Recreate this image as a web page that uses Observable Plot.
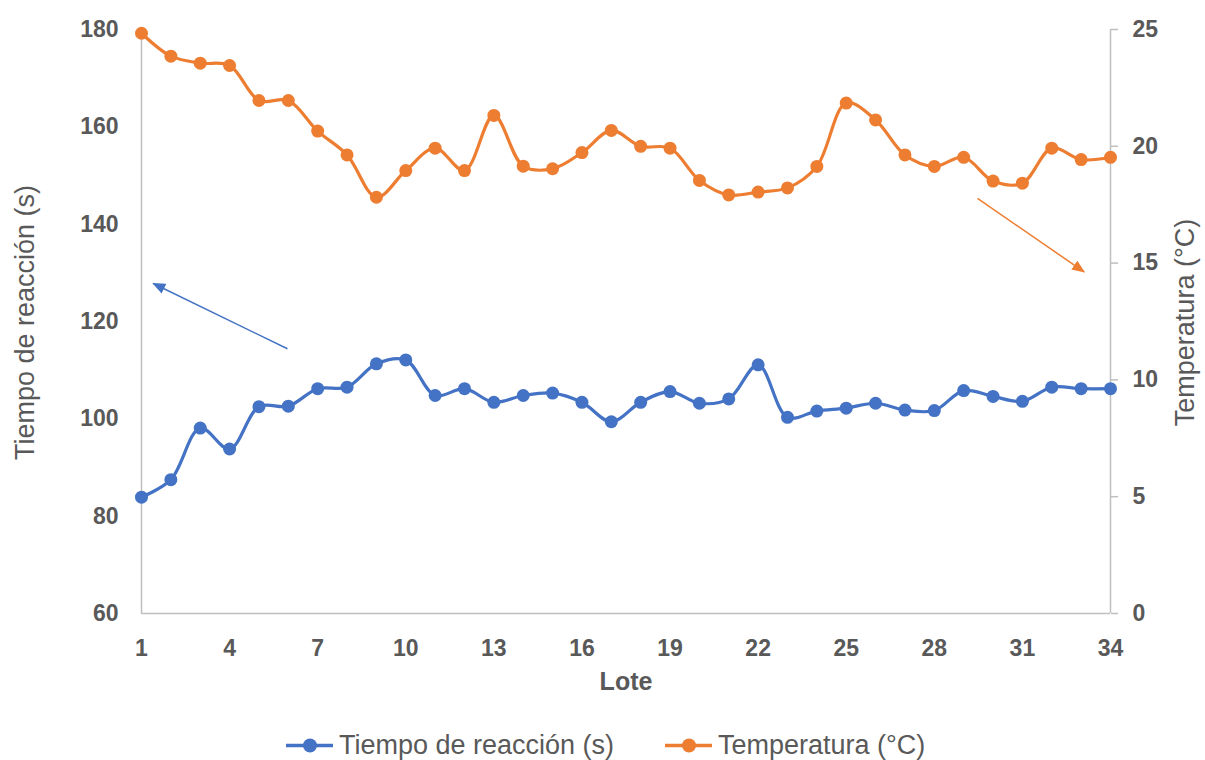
<!DOCTYPE html>
<html><head><meta charset="utf-8">
<script src="https://cdn.jsdelivr.net/npm/d3@7"></script>
<script src="https://cdn.jsdelivr.net/npm/@observablehq/plot@0.6"></script>
<style>
body{margin:0;background:#fff;font-family:"Liberation Sans",Arial,sans-serif;color:#595959;}
#wrap{position:relative;width:1205px;}
.ytitle{position:absolute;white-space:nowrap;font-size:27px;line-height:1;}
#legend{position:relative;width:1205px;height:60px;font-size:27px;}
.item{position:absolute;top:45px;transform:translateY(-50%);display:flex;align-items:center;gap:6px;white-space:nowrap;line-height:1;}
</style>
</head><body>
<div id="wrap"><div id="chart"></div></div>
<div id="legend"></div>
<script>
// Data
const lotes = [1,2,3,4,5,6,7,8,9,10,11,12,13,14,15,16,17,18,19,20,21,22,23,24,25,26,27,28,29,30,31,32,33,34];
const tiempo = [83.9,87.5,98.1,93.8,102.5,102.6,106.2,106.5,111.3,112.1,104.8,106.2,103.4,104.8,105.3,103.4,99.4,103.4,105.6,103.2,104.1,111.1,100.3,101.6,102.2,103.2,101.8,101.7,105.8,104.6,103.6,106.5,106.2,106.2];
const temperatura = [24.84,23.86,23.56,23.46,21.96,21.96,20.65,19.63,17.82,18.96,19.92,18.96,21.32,19.15,19.04,19.73,20.68,20.0,19.92,18.54,17.92,18.04,18.22,19.14,21.85,21.13,19.63,19.14,19.53,18.51,18.42,19.92,19.43,19.53];
const xTicks = [1,4,7,10,13,16,19,22,25,28,31,34];
const leftTicks = [60,80,100,120,140,160,180];
const rightTicks = [0,5,10,15,20,25];
const seriesNames = ["Tiempo de reacción (s)", "Temperatura (°C)"];
const axisTitles = ["Tiempo de reacción (s)", "Temperatura (°C)", "Lote"];
const colors = ["#4472C4", "#ED7D31"];
// Annotation arrows (lote, left-axis value)
const arrows = [
  {x1: 5.97, y1: 114.4, x2: 1.4, y2: 127.8, c: 0},
  {x1: 29.47, y1: 145.3, x2: 33.1, y2: 130.2, c: 1}
];

// Right axis (°C) mapped onto left-axis domain [60,180]
const tToLeft = t => 60 + t * (180 - 60) / 25;

const dTiempo = lotes.map((l, i) => ({lote: l, v: tiempo[i]}));
const dTemp = lotes.map((l, i) => ({lote: l, v: tToLeft(temperatura[i])}));

const grey = "#BFBFBF", txt = "#595959";

const chart = Plot.plot({
  width: 1205,
  height: 700,
  marginLeft: 141,
  marginRight: 95,
  marginTop: 29,
  marginBottom: 87,
  style: {fontFamily: '"Liberation Sans", Arial, sans-serif', color: txt, background: "#fff"},
  x: {domain: [1, 34], axis: null},
  y: {domain: [60, 180], axis: null},
  marks: [
    Plot.ruleX([1], {stroke: grey, strokeWidth: 1.5}),
    Plot.ruleX([34], {stroke: grey, strokeWidth: 1.5}),
    Plot.ruleY([60], {x1: 1, x2: 34, stroke: grey, strokeWidth: 1.5}),
    Plot.axisY({ticks: leftTicks, tickSize: 0, tickPadding: 23, fontSize: 23, fontWeight: "bold", fill: txt, label: null}),
    Plot.axisY({anchor: "right", ticks: rightTicks.map(tToLeft), tickFormat: v => String(Math.round((v - 60) * 25 / 120)), tickSize: 7, tickPadding: 15, stroke: grey, strokeWidth: 1.5, fontSize: 23, fontWeight: "bold", fill: txt, label: null}),
    Plot.axisX({ticks: xTicks, tickSize: 0, tickPadding: 26, fontSize: 23, fontWeight: "bold", fill: txt, label: null}),
    Plot.text([axisTitles[2]], {frameAnchor: "bottom", dy: 76, fontSize: 25, fontWeight: "bold", fill: txt}),
    Plot.link(arrows, {x1: "x1", y1: "y1", x2: "x2", y2: "y2", stroke: d => colors[d.c], strokeWidth: 1.5}),
    Plot.line(dTiempo, {x: "lote", y: "v", stroke: colors[0], strokeWidth: 3.2, curve: "catmull-rom"}),
    Plot.dot(dTiempo, {x: "lote", y: "v", fill: colors[0], r: 6.5}),
    Plot.line(dTemp, {x: "lote", y: "v", stroke: colors[1], strokeWidth: 3.2, curve: "catmull-rom"}),
    Plot.dot(dTemp, {x: "lote", y: "v", fill: colors[1], r: 6.5})
  ]
});
document.getElementById("chart").appendChild(chart);

// filled arrowheads for annotation links
const ns = "http://www.w3.org/2000/svg";
const defs = document.createElementNS(ns, "defs");
colors.forEach((c, i) => {
  const m = document.createElementNS(ns, "marker");
  m.setAttribute("id", "ah" + i);
  m.setAttribute("viewBox", "0 0 12 10");
  m.setAttribute("refX", "11");
  m.setAttribute("refY", "5");
  m.setAttribute("markerWidth", "13");
  m.setAttribute("markerHeight", "11");
  m.setAttribute("markerUnits", "userSpaceOnUse");
  m.setAttribute("orient", "auto");
  const p = document.createElementNS(ns, "path");
  p.setAttribute("d", "M0,0L12,5L0,10Z");
  p.setAttribute("fill", c);
  m.appendChild(p);
  defs.appendChild(m);
});
chart.insertBefore(defs, chart.firstChild);
chart.querySelectorAll('g[aria-label="link"] path').forEach((p, i) => p.setAttribute("marker-end", `url(#ah${arrows[i].c})`));

// rotated axis titles, centred on given points
const wrap = document.getElementById("wrap");
[[axisTitles[0], 25], [axisTitles[1], 1185]].forEach(([t, x]) => {
  const d = document.createElement("div");
  d.className = "ytitle";
  d.textContent = t;
  wrap.appendChild(d);
  const w = d.offsetWidth, h = d.offsetHeight;
  d.style.left = (x - w / 2) + "px";
  d.style.top = (322 - h / 2) + "px";
  d.style.transform = "rotate(-90deg)";
});

const legend = document.getElementById("legend");
const legendLeft = [286, 665];
seriesNames.forEach((name, i) => {
  const item = document.createElement("div");
  item.className = "item";
  item.style.left = legendLeft[i] + "px";
  item.innerHTML = `<svg width="47" height="16"><line x1="0" y1="8" x2="47" y2="8" stroke="${colors[i]}" stroke-width="3.5"/><circle cx="24" cy="8" r="7" fill="${colors[i]}"/></svg><span>${name}</span>`;
  legend.appendChild(item);
});
</script>
</body></html>
